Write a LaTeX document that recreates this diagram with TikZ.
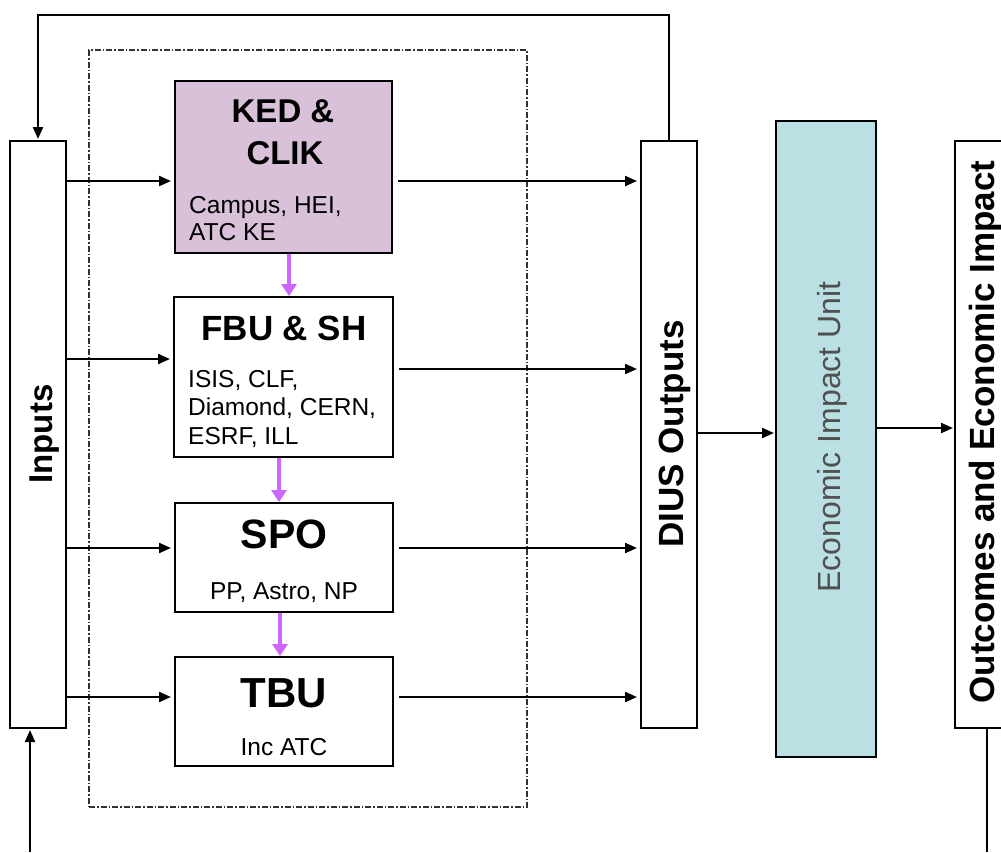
\documentclass[tikz,border=0pt]{standalone}
\usepackage{fontspec}
\setmainfont{Liberation Sans}
\usetikzlibrary{arrows.meta}
\definecolor{kedfill}{HTML}{D9C1D9}
\definecolor{eiufill}{HTML}{BBE0E3}
\definecolor{purp}{HTML}{CC66FF}
\definecolor{eiutext}{HTML}{505050}
\tikzset{
  box/.style={draw=black, line width=2pt, rectangle, inner sep=0pt},
  arr/.style={draw=black, line width=2.2pt, -{Triangle[length=12pt,width=10pt]}},
  plainline/.style={draw=black, line width=2pt},
  parr/.style={draw=purp, line width=3.8pt, -{Triangle[length=12pt,width=15pt]}},
  title/.style={font=\bfseries, inner sep=0pt, anchor=base},
  sub/.style={inner sep=0pt, anchor=base west, font=\fontsize{24.5}{28}\selectfont},
  subc/.style={inner sep=0pt, anchor=base, font=\fontsize{24.5}{28}\selectfont},
  vtext/.style={rotate=90, inner sep=0pt, anchor=base}
}
\begin{document}
\begin{tikzpicture}[x=1pt,y=-1pt]
\useasboundingbox (0,0) rectangle (1001,852);
\clip (0,0) rectangle (1001,852);
% dashed container
\node[draw=black!80, line width=1.3pt, dash pattern=on 6pt off 2pt on 1.5pt off 2pt, minimum width=438pt, minimum height=757pt, inner sep=0pt] (group) at (308,428.5) {};
% boxes
\node[box, minimum width=56pt, minimum height=587pt] (inp) at (38,434.5) {};
\node[box, fill=kedfill, minimum width=217pt, minimum height=172pt] (ked) at (283.5,167) {};
\node[box, minimum width=219pt, minimum height=160pt] (fbu) at (283.5,377) {};
\node[box, minimum width=218pt, minimum height=109pt] (spo) at (284,557.5) {};
\node[box, minimum width=218pt, minimum height=109pt] (tbu) at (284,711.5) {};
\node[box, minimum width=56pt, minimum height=587pt] (dius) at (669,434.5) {};
\node[box, fill=eiufill, minimum width=100pt, minimum height=636pt] (eiu) at (826,439) {};
\node[box, minimum width=60pt, minimum height=587pt] (out) at (985,434.5) {};
% texts
\node[title, font=\fontsize{33}{36}\bfseries\selectfont] (t1a) at (283,122) {KED \&};
\node[title, font=\fontsize{33}{36}\bfseries\selectfont] (t1b) at (285,164) {CLIK};
\node[sub] (s1a) at (189,213) {Campus, HEI,};
\node[sub] (s1b) at (189,240) {ATC KE};
\node[title, font=\fontsize{35}{38}\bfseries\selectfont] (t2) at (284,340) {FBU \& SH};
\node[sub] (s2a) at (188,387) {ISIS, CLF,};
\node[sub] (s2b) at (188,415) {Diamond, CERN,};
\node[sub] (s2c) at (188,444) {ESRF, ILL};
\node[title, font=\fontsize{41}{44}\bfseries\selectfont] (t3) at (284,548) {SPO};
\node[subc] (s3) at (284,599) {PP, Astro, NP};
\node[title, font=\fontsize{42}{44}\bfseries\selectfont] (t4) at (284,707) {TBU};
\node[subc] (s4) at (284,755) {Inc ATC};
\node[vtext, font=\fontsize{33}{36}\bfseries\selectfont] (tin) at (52,434) {Inputs};
\node[vtext, font=\fontsize{35}{38}\bfseries\selectfont] (tdi) at (683,434) {DIUS Outputs};
\node[vtext, text=eiutext, font=\fontsize{32}{34}\selectfont] (tei) at (840,437) {Economic Impact Unit};
\node[vtext, font=\fontsize{35}{38}\bfseries\selectfont] (tou) at (994,432) {Outcomes and Economic Impact};
% helper coordinates
\coordinate (ya) at (0,181);
\coordinate (yb) at (0,359);
\coordinate (yb2) at (0,369);
\coordinate (yc) at (0,548);
\coordinate (yd) at (0,697);
\coordinate (ye) at (0,433);
\coordinate (yf) at (0,428);
\coordinate (fb) at (38,15);
\coordinate (bin) at (30,852);
\coordinate (bout) at (987,852);
\coordinate (px1) at (289,0);
\coordinate (px2) at (279,0);
\coordinate (px3) at (280,0);
% input arrows
\draw[arr, shorten >=3pt] (inp.east |- ya) -- (ked.west |- ya);
\draw[arr, shorten >=3pt] (inp.east |- yb) -- (fbu.west |- yb);
\draw[arr, shorten >=3pt] (inp.east |- yc) -- (spo.west |- yc);
\draw[arr, shorten >=3pt] (inp.east |- yd) -- (tbu.west |- yd);
% output arrows
\draw[arr, shorten <=5pt, shorten >=3pt] (ked.east |- ya) -- (dius.west |- ya);
\draw[arr, shorten <=5pt, shorten >=3pt] (fbu.east |- yb2) -- (dius.west |- yb2);
\draw[arr, shorten <=5pt, shorten >=3pt] (spo.east |- yc) -- (dius.west |- yc);
\draw[arr, shorten <=5pt, shorten >=3pt] (tbu.east |- yd) -- (dius.west |- yd);
\draw[arr, shorten >=1pt] (dius.east |- ye) -- (eiu.west |- ye);
\draw[arr, shorten >=1pt] (eiu.east |- yf) -- (out.west |- yf);
% purple arrows
\draw[parr] (ked.south -| px1) -- (fbu.north -| px1);
\draw[parr] (fbu.south -| px2) -- (spo.north -| px2);
\draw[parr] (spo.south -| px3) -- (tbu.north -| px3);
% feedback loop
\draw[arr, shorten >=1pt] (dius.north) |- (fb) -- (inp.north);
\draw[arr, shorten >=1pt] (bin) -- (inp.south -| bin);
\draw[plainline] (out.south -| bout) -- (bout);
\end{tikzpicture}
\end{document}
